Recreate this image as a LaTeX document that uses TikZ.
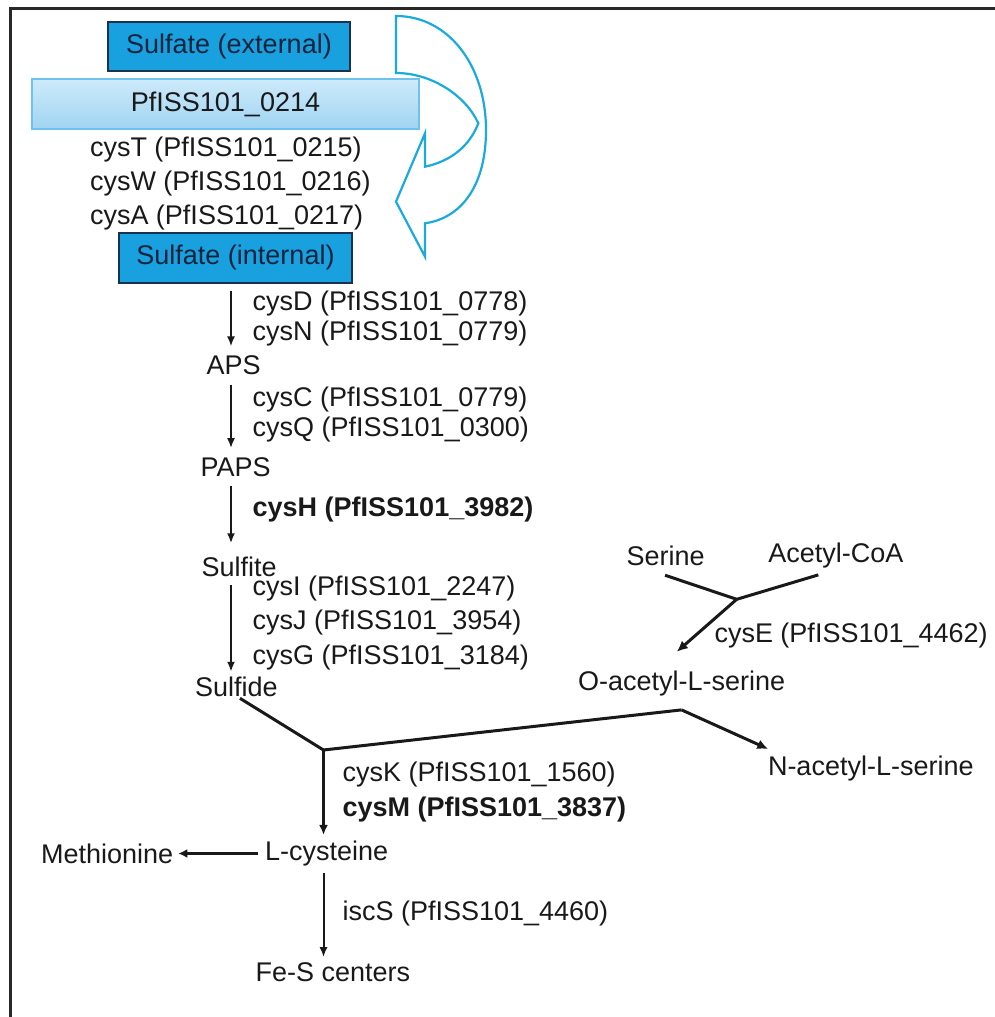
\documentclass[tikz,border=0pt]{standalone}
\usepackage{fontspec}
\setmainfont{Liberation Sans}
\usetikzlibrary{arrows.meta}
\definecolor{txt}{RGB}{25,25,25}
\definecolor{sulfill}{RGB}{25,160,222}
\definecolor{sulborder}{RGB}{25,50,80}
\definecolor{sultext}{RGB}{15,35,60}
\definecolor{pftop}{RGB}{205,234,250}
\definecolor{pfbot}{RGB}{160,212,242}
\definecolor{pfborder}{RGB}{110,195,235}
\definecolor{cyanline}{RGB}{25,170,222}
\definecolor{framec}{RGB}{40,40,40}
\tikzset{
  lbl/.style={anchor=west, inner sep=0pt, outer sep=0pt, text=txt, font=\fontsize{27pt}{32pt}\selectfont},
  sulbox/.style={draw=sulborder, line width=1.8pt, fill=sulfill, text=sultext, inner sep=0pt, font=\fontsize{27pt}{32pt}\selectfont},
  pfbox/.style={draw=pfborder, line width=1.4pt, top color=pftop, bottom color=pfbot, text=txt, inner sep=0pt, font=\fontsize{27pt}{32pt}\selectfont},
  thinarr/.style={draw=txt, line width=2pt, -{Latex[length=10pt,width=8pt]}},
  thickarr/.style={draw=txt, line width=3pt, -{Latex[length=11pt,width=10pt]}},
  thickline/.style={draw=txt, line width=3pt},
  bluearrow/.style={draw=cyanline, line width=2.2pt, line join=miter}
}
\begin{document}
\begin{tikzpicture}[x=1pt,y=-1pt]
\useasboundingbox (0,0) rectangle (995,1017);
% frame
\draw[framec, line width=2.6pt] (995,8.5) -- (10.5,8.5) -- (10.5,1017);

% blue curved arrow
\draw[bluearrow] (396,16) .. controls (448,16) and (486,65) .. (486,130)
  .. controls (486,185) and (462,218) .. (425,223.3)
  -- (425,256.7) -- (396,201.7) -- (425,133.3) -- (425,166.7)
  .. controls (452,161) and (470,145) .. (478.3,123.3)
  .. controls (466,96) and (432,73) .. (396,73) -- cycle;

% boxes
\node[sulbox, minimum width=242pt, minimum height=49pt] (ext) at (229,46.5) {Sulfate (external)};
\node[pfbox, minimum width=387pt, minimum height=50pt] (pf) at (225.5,104) {PfISS101\_0214};
\node[sulbox, minimum width=233pt, minimum height=50pt] (int) at (235.5,258) {Sulfate (internal)};

% transporter genes
\node[lbl] (cysT) at (90,150) {cysT (PfISS101\_0215)};
\node[lbl] (cysW) at (90,184) {cysW (PfISS101\_0216)};
\node[lbl] (cysA) at (90,218) {cysA (PfISS101\_0217)};

% metabolites
\node[lbl] (APS) at (206.7,365) {APS};
\node[lbl] (PAPS) at (200.7,466.7) {PAPS};
\node[lbl] (Sulfite) at (201.7,566.7) {Sulfite};
\node[lbl] (Sulfide) at (195,686.7) {Sulfide};
\node[lbl] (Serine) at (626.7,556) {Serine};
\node[lbl] (AcCoA) at (768.3,556) {Acetyl-CoA};
\node[lbl] (Oacetyl) at (578,684) {O-acetyl-L-serine};
\node[lbl] (Nacetyl) at (768,768.3) {N-acetyl-L-serine};
\node[lbl] (Lcys) at (265,853.5) {L-cysteine};
\node[lbl] (Met) at (41.2,853.5) {Methionine};
\node[lbl] (FeS) at (255.7,971.7) {Fe-S centers};

% enzyme labels
\node[lbl] (cysD) at (252.7,303.3) {cysD (PfISS101\_0778)};
\node[lbl] (cysN) at (252.7,333.3) {cysN (PfISS101\_0779)};
\node[lbl] (cysC) at (252.7,399.3) {cysC (PfISS101\_0779)};
\node[lbl] (cysQ) at (252.7,430) {cysQ (PfISS101\_0300)};
\node[lbl, font=\fontsize{27pt}{32pt}\selectfont\bfseries] (cysH) at (252.7,510) {cysH (PfISS101\_3982)};
\node[lbl] (cysI) at (252.7,588.5) {cysI (PfISS101\_2247)};
\node[lbl] (cysJ) at (252.7,623) {cysJ (PfISS101\_3954)};
\node[lbl] (cysG) at (252.7,658) {cysG (PfISS101\_3184)};
\node[lbl] (cysE) at (714.5,636) {cysE (PfISS101\_4462)};
\node[lbl] (cysK) at (342.6,775) {cysK (PfISS101\_1560)};
\node[lbl, font=\fontsize{27pt}{32pt}\selectfont\bfseries] (cysM) at (342.6,810) {cysM (PfISS101\_3837)};
\node[lbl] (iscS) at (342.6,913.3) {iscS (PfISS101\_4460)};

% column and junctions
\coordinate (col) at (231,0);
\coordinate (j1) at (323.5,750);
\coordinate (j3) at (736.7,599.3);
\coordinate (j2) at ([yshift=-13.3pt]Oacetyl.south);

% main vertical arrows
\draw[thinarr, shorten <=7pt, shorten >=9pt] (int.south -| col) -- (APS.north -| col);
\draw[thinarr, shorten <=10pt, shorten >=9pt] (APS.south -| col) -- (PAPS.north -| col);
\draw[thinarr, shorten <=10pt, shorten >=13.5pt] (PAPS.south -| col) -- (Sulfite.north -| col);
\draw[thinarr, shorten <=8.5pt, shorten >=5pt] (Sulfite.south -| col) -- (Sulfide.north -| col);

% serine + acetyl-CoA -> O-acetyl-L-serine
\draw[thickline] ([xshift=-0.7pt,yshift=-9.3pt]Serine.south) -- (j3);
\draw[thickline] ([xshift=-17.5pt,yshift=-6.3pt]AcCoA.south) -- (j3);
\draw[thickarr] (j3) -- ([xshift=-4.8pt,yshift=19.6pt]Oacetyl.north);

% sulfide + O-acetyl-L-serine -> L-cysteine, N-acetyl-L-serine
\draw[thickline] ([xshift=3.7pt,yshift=-1.7pt]Sulfide.south) -- (j1);
\draw[thickline] (j1) -- (j2);
\draw[thickarr] (j2) -- ([xshift=0.3pt,yshift=6.7pt]Nacetyl.north west);
\draw[draw=txt, line width=2.6pt, -{Latex[length=10pt,width=9pt]}, shorten >=6pt] (j1) -- (j1 |- Lcys.north);

% L-cysteine -> Methionine, Fe-S centers
\draw[draw=txt, line width=3pt, -{Latex[length=9pt,width=9pt]}, shorten <=6.7pt, shorten >=5pt] (Lcys.west) -- (Met.east);
\draw[thinarr, shorten <=7pt, shorten >=5pt] (Lcys.south -| j1) -- (FeS.north -| j1);
\end{tikzpicture}
\end{document}
